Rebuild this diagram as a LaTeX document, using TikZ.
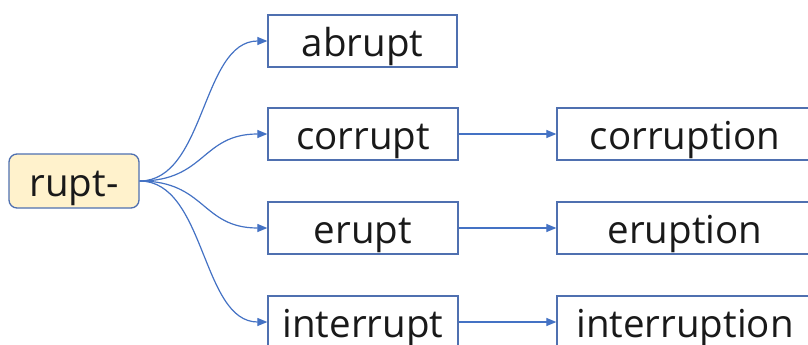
\documentclass[tikz,border=0pt]{standalone}
\usepackage{fontspec}
\setmainfont{Open Sans}
\usetikzlibrary{arrows.meta,calc}
\definecolor{boxline}{HTML}{4F70B0}
\definecolor{arrowc}{HTML}{4472C4}
\definecolor{rootfill}{HTML}{FFF2CC}
\tikzset{
  wordbox/.style={draw=boxline, line width=1.3pt, minimum height=52pt, inner sep=0pt, font=\fontsize{38.5}{40}\selectfont, text=black!90, text height=36pt, text depth=4.6pt},
  rootbox/.style={wordbox, fill=rootfill, rounded corners=8pt},
  conn/.style={draw=arrowc, line width=1.2pt, -{Triangle[length=10pt,width=8pt]}}
}
\begin{document}
\begin{tikzpicture}[x=1pt,y=-1pt]
\useasboundingbox (0,0) rectangle (808,345);
\clip (0,0) rectangle (808,345);
\node[rootbox, minimum width=130pt, minimum height=54pt] (root) at (74,181) {rupt-};
\node[wordbox, minimum width=189pt] (abrupt) at (362.5,41) {abrupt};
\node[wordbox, minimum width=190pt] (corrupt) at (363,134) {corrupt};
\node[wordbox, minimum width=190pt] (erupt) at (363,228) {erupt};
\node[wordbox, minimum width=190pt] (interrupt) at (363,322) {interrupt};
\node[wordbox, minimum width=256pt] (corruption) at (685,134) {corruption};
\node[wordbox, minimum width=256pt] (eruption) at (685,228) {eruption};
\node[wordbox, minimum width=256pt] (interruption) at (685,322) {interruption};
\foreach \t in {abrupt,corrupt,erupt,interrupt}{
  \draw[conn] (root.east) .. controls ($(root.east)+(66,0)$) and ($(\t.west)+(-66,0)$) .. (\t.west);
}
\draw[conn] (corrupt.east) -- (corruption.west);
\draw[conn] (erupt.east) -- (eruption.west);
\draw[conn] (interrupt.east) -- (interruption.west);
\end{tikzpicture}
\end{document}
